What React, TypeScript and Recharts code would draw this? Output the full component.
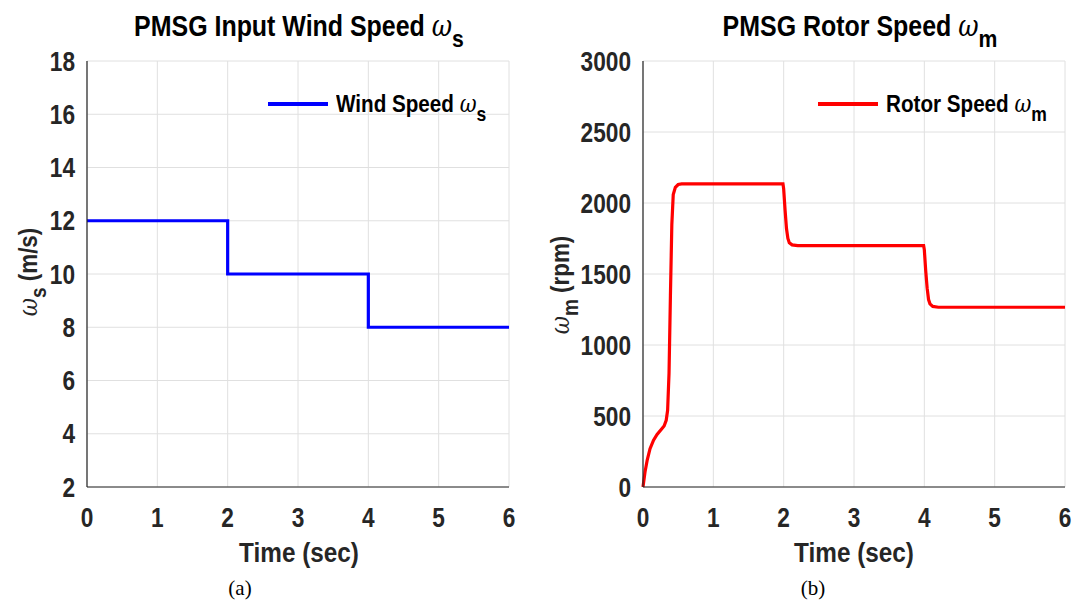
import React from 'react';
import { LineChart, Line, XAxis, YAxis, CartesianGrid } from 'recharts';

// time axis shared by both plots
const timeTicks = [0, 1, 2, 3, 4, 5, 6];

// (a) wind speed steps
const windTime = [0, 2, 2, 4, 4, 6];
const windSpeed = [12, 12, 10, 10, 8, 8];
const windTicks = [2, 4, 6, 8, 10, 12, 14, 16, 18];

// (b) rotor speed response
const rotorTime = [
  0, 0.03, 0.06, 0.1, 0.15, 0.2, 0.25, 0.3, 0.33, 0.35, 0.37, 0.39, 0.41, 0.43, 0.46, 0.5, 0.55,
  1.99, 2.0, 2.02, 2.04, 2.06, 2.08, 2.12, 2.2,
  3.99, 4.0, 4.02, 4.04, 4.06, 4.08, 4.12, 4.2, 6,
];
const rotorSpeed = [
  0, 110, 190, 270, 330, 370, 400, 430, 470, 540, 800, 1350, 1850, 2060, 2110, 2130, 2135,
  2135, 2100, 1950, 1820, 1750, 1720, 1705, 1700,
  1700, 1670, 1520, 1400, 1320, 1290, 1272, 1266, 1266,
];
const rotorTicks = [0, 500, 1000, 1500, 2000, 2500, 3000];

const windData = windTime.map((t, i) => ({ t, v: windSpeed[i] }));
const rotorData = rotorTime.map((t, i) => ({ t, v: rotorSpeed[i] }));

const FONT = "'Liberation Sans', Arial, Helvetica, sans-serif";
const AXIS = '#262626';
const NARROW = 0.86;

// condensed bold tick labels (the figure uses a narrow Helvetica)
const XTick = (props: any) => {
  const { x, y, payload } = props;
  return (
    <text transform={`translate(${x},${y}) scale(0.84,1)`} textAnchor="middle" dy="0.71em"
      fontFamily={FONT} fontSize={27} fontWeight={700} fill={AXIS}>
      {payload.value}
    </text>
  );
};

const YTick = (props: any) => {
  const { x, y, payload } = props;
  return (
    <text transform={`translate(${x},${y}) scale(0.84,1)`} textAnchor="end" dy="0.36em"
      fontFamily={FONT} fontSize={27} fontWeight={700} fill={AXIS}>
      {payload.value}
    </text>
  );
};

const Sym = ({ sub }: { sub: string }) => (
  <span>
    <span style={{ fontStyle: 'italic', fontWeight: 400, fontFamily: "'DejaVu Serif', serif" }}>ω</span>
    <sub style={{ fontSize: '0.85em', verticalAlign: '-0.45em', lineHeight: 0 }}>{sub}</sub>
  </span>
);

const LegendItem = ({ color, label, sub, left }: { color: string; label: string; sub: string; left: number }) => (
  <div style={{ position: 'absolute', left, top: 90, display: 'flex', alignItems: 'center' }}>
    <div style={{ width: 60, height: 4, background: color, marginRight: 8 }} />
    <span style={{ fontFamily: FONT, fontWeight: 700, fontSize: 24, color: '#000', whiteSpace: 'nowrap',
      display: 'inline-block', transform: `scaleX(${NARROW})`, transformOrigin: 'left center' }}>
      {label} <Sym sub={sub} />
    </span>
  </div>
);

interface PanelProps {
  data: { t: number; v: number }[];
  yTicks: number[];
  color: string;
  yWidth: number;
  left: number;
  right: number;
}

const Panel = ({ data, yTicks, color, yWidth, left, right }: PanelProps) => (
  <LineChart width={536} height={603} data={data} margin={{ top: 61, right, left, bottom: 76 }}>
    <CartesianGrid stroke="#e0e0e0" strokeWidth={1} />
    <XAxis
      dataKey="t"
      type="number"
      domain={[0, 6]}
      ticks={timeTicks}
      tick={<XTick />}
      tickLine={false}
      axisLine={{ stroke: AXIS, strokeWidth: 1.2 }}
      height={40}
      tickMargin={15}
      interval={0}
    />
    <XAxis
      xAxisId="top"
      dataKey="t"
      type="number"
      orientation="top"
      domain={[0, 6]}
      ticks={timeTicks}
      mirror
      height={0}
      tickSize={5}
      tickFormatter={() => ''}
      tickLine={{ stroke: AXIS }}
      axisLine={{ stroke: AXIS, strokeWidth: 1.2 }}
    />
    <YAxis
      type="number"
      domain={[yTicks[0], yTicks[yTicks.length - 1]]}
      ticks={yTicks}
      tick={<YTick />}
      tickLine={false}
      axisLine={{ stroke: AXIS, strokeWidth: 1.2 }}
      width={yWidth}
      tickMargin={6}
      interval={0}
    />
    <YAxis
      yAxisId="right"
      orientation="right"
      type="number"
      domain={[yTicks[0], yTicks[yTicks.length - 1]]}
      ticks={yTicks}
      mirror
      width={0}
      tickSize={5}
      tickFormatter={() => ''}
      tickLine={{ stroke: AXIS }}
      axisLine={{ stroke: AXIS, strokeWidth: 1.2 }}
    />
    <Line type="linear" dataKey="v" stroke={color} strokeWidth={3.2} dot={false} isAnimationActive={false} />
  </LineChart>
);

const titleStyle: React.CSSProperties = {
  position: 'absolute',
  fontFamily: FONT,
  fontWeight: 700,
  fontSize: 29,
  color: '#000',
  whiteSpace: 'nowrap',
  transform: `translateX(-50%) scaleX(${NARROW})`,
};

const xLabelStyle: React.CSSProperties = {
  ...titleStyle,
  color: AXIS,
  fontSize: 27,
  transform: 'translateX(-50%) scaleX(0.9)',
};

const yLabelStyle: React.CSSProperties = {
  position: 'absolute',
  fontFamily: FONT,
  fontWeight: 700,
  fontSize: 26,
  color: AXIS,
  whiteSpace: 'nowrap',
  transform: `translate(-50%, -50%) rotate(-90deg) scaleX(${NARROW})`,
};

const captionStyle: React.CSSProperties = {
  position: 'absolute',
  fontFamily: "'Liberation Serif', 'Times New Roman', serif",
  fontSize: 21,
  color: '#000',
  transform: 'translateX(-50%)',
};

export default function App() {
  return (
    <div style={{ position: 'absolute', left: 0, top: 0, width: 1073, height: 603, background: '#fff', overflow: 'hidden' }}>
      <div style={{ position: 'absolute', left: 0, top: 0 }}>
        <Panel data={windData} yTicks={windTicks} color="#0000ff" yWidth={50} left={37} right={27} />
      </div>
      <div style={{ position: 'absolute', left: 536, top: 0 }}>
        <Panel data={rotorData} yTicks={rotorTicks} color="#ff0000" yWidth={62} left={45} right={7} />
      </div>

      <LegendItem color="#0000ff" label="Wind Speed" sub="s" left={268} />
      <LegendItem color="#ff0000" label="Rotor Speed" sub="m" left={818} />

      <div style={{ ...titleStyle, left: 299, top: 9 }}>PMSG Input Wind Speed <Sym sub="s" /></div>
      <div style={{ ...titleStyle, left: 860, top: 9 }}>PMSG Rotor Speed <Sym sub="m" /></div>

      <div style={{ ...yLabelStyle, left: 28, top: 272 }}><Sym sub="s" /> (m/s)</div>
      <div style={{ ...yLabelStyle, left: 560, top: 285 }}><Sym sub="m" /> (rpm)</div>

      <div style={{ ...xLabelStyle, left: 299, top: 538 }}>Time (sec)</div>
      <div style={{ ...xLabelStyle, left: 854, top: 538 }}>Time (sec)</div>

      <div style={{ ...captionStyle, left: 240, top: 576 }}>(a)</div>
      <div style={{ ...captionStyle, left: 813, top: 576 }}>(b)</div>
    </div>
  );
}
